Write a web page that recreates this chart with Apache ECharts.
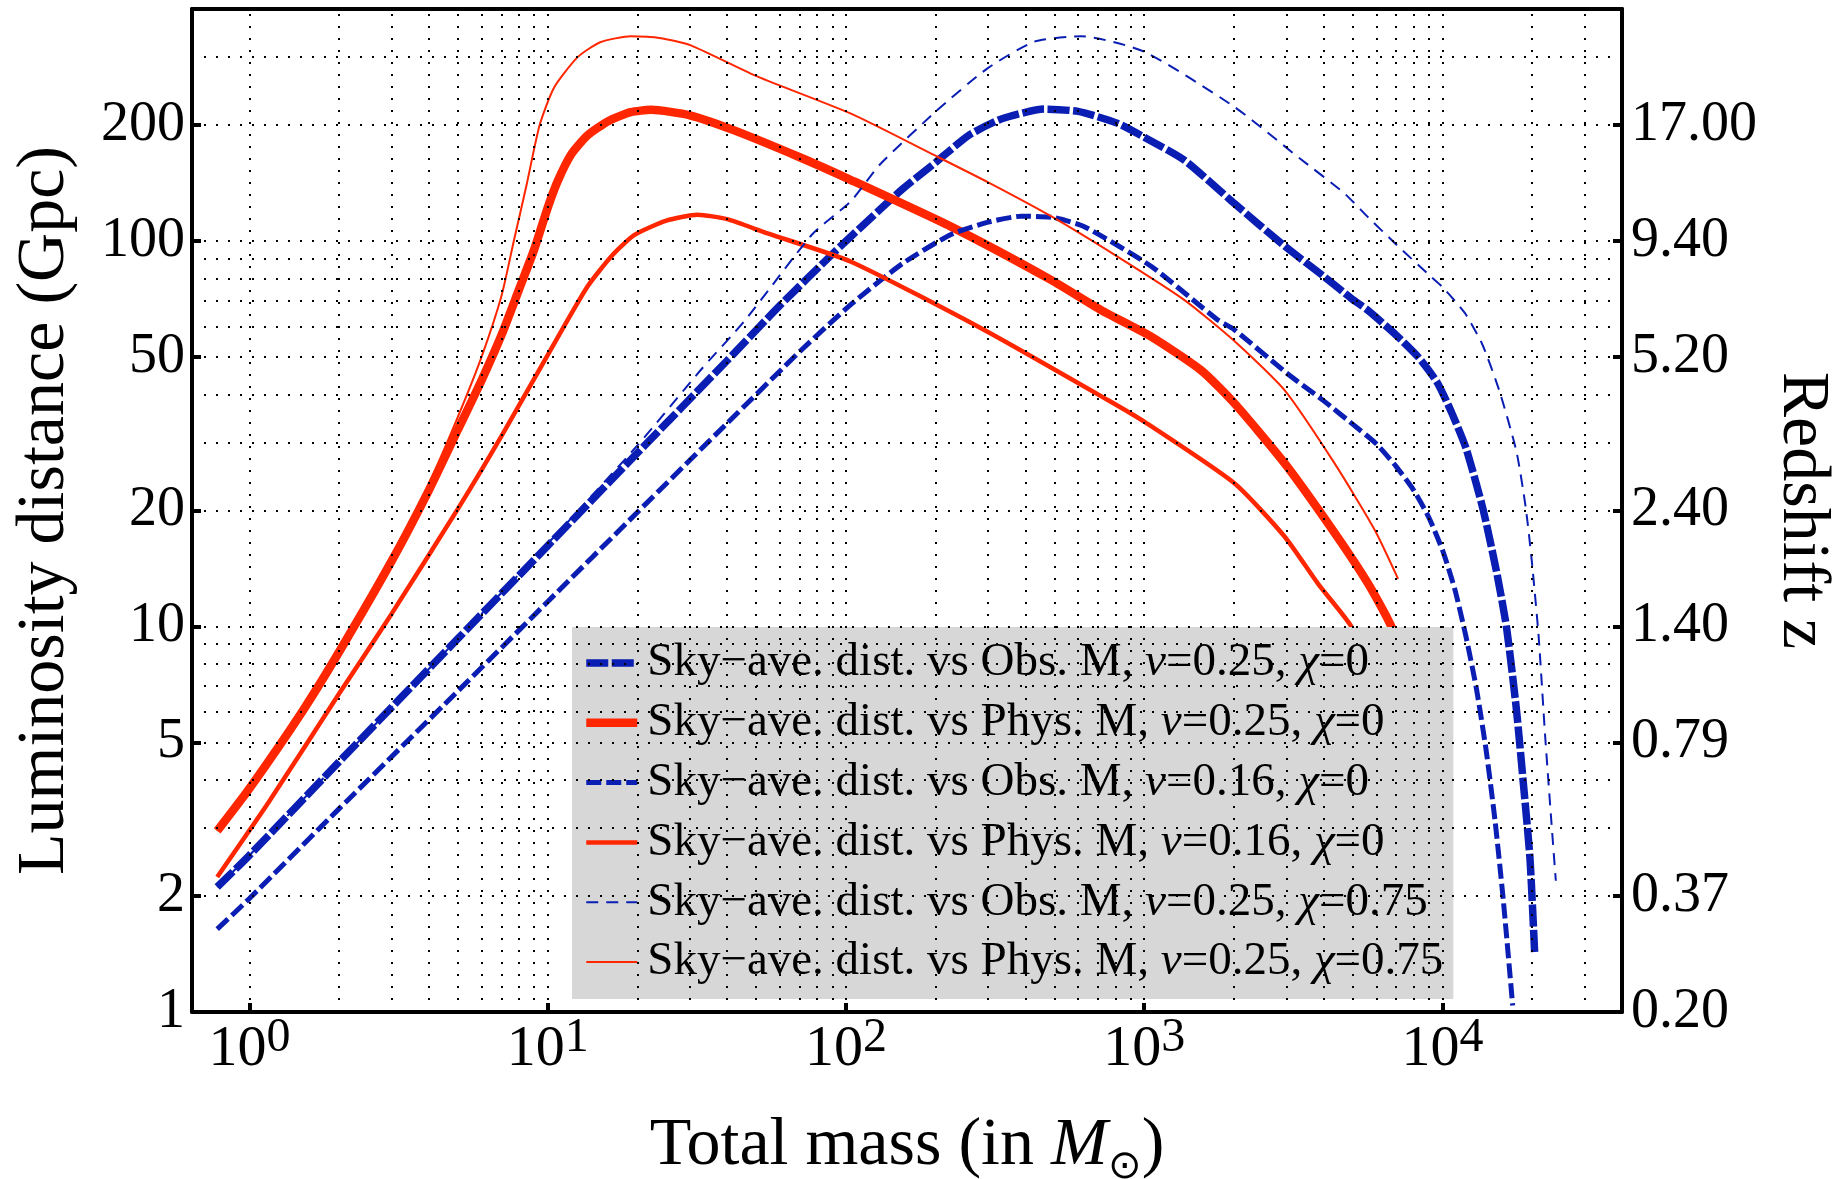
<!DOCTYPE html>
<html>
<head>
<meta charset="utf-8">
<script src="https://cdn.jsdelivr.net/npm/echarts@6/dist/echarts.min.js"></script>
<style>
html,body{margin:0;padding:0;background:#fff;}
#chart{width:1837px;height:1179px;}
</style>
</head>
<body>
<div id="chart"></div>
<script>
// ---------- axis ranges and ticks ----------
const xMin = 0.642, xMax = 40000;
const yMin = 1, yMax = 400;
const xTickValues = [1, 10, 100, 1000, 10000];
const yTickValues = [1, 2, 5, 10, 20, 50, 100, 200];
const yTickLabels = ['1', '2', '5', '10', '20', '50', '100', '200'];
const zTickLabels = ['0.20', '0.37', '0.79', '1.40', '2.40', '5.20', '9.40', '17.00'];
const xGridValues = [1,2,3,4,5,6,7,8,9,10,20,30,40,50,60,70,80,90,100,200,300,400,500,600,700,800,900,
                     1000,2000,3000,4000,5000,6000,7000,8000,9000,10000,20000,30000];
const yGridValues = [2,3,4,5,6,7,8,9,10,20,30,40,50,60,70,80,90,100,200,300];

// ---------- series names ----------
const seriesNames = [
  'Sky\u2212ave. dist. vs Obs. M, \u03bd=0.25, \u03c7=0',
  'Sky\u2212ave. dist. vs Phys. M, \u03bd=0.25, \u03c7=0',
  'Sky\u2212ave. dist. vs Obs. M, \u03bd=0.16, \u03c7=0',
  'Sky\u2212ave. dist. vs Phys. M, \u03bd=0.16, \u03c7=0',
  'Sky\u2212ave. dist. vs Obs. M, \u03bd=0.25, \u03c7=0.75',
  'Sky\u2212ave. dist. vs Phys. M, \u03bd=0.25, \u03c7=0.75'
];

// ---------- data: [total mass (Msun), luminosity distance (Gpc)] ----------
const obsNu025Chi0 = [[0.78,2.11],[1,2.55],[2,4.46],[5,9.3],[10,16.2],[20,28.2],[40,49],[60,68],[92,94],
  [120,114],[154,136],[200,160],[258,188],[330,207],[462,220],[600,217],[816,202],[1000,186],[1365,162],
  [2010,125],[2960,97],[4000,81],[4950,71],[5640,66],[7000,57],[8300,50],[9600,43],[10720,36],[12000,29],
  [13670,20.2],[15180,13.9],[16400,9.96],[17700,6.1],[18660,3.95],[19660,2.5],[20400,1.4]];
const physNu025Chi0 = [[0.78,2.95],[1,3.8],[1.5,6.0],[2,8.6],[3,14.8],[4,22.6],[5,32.4],[6,43.5],[7,57],[8,74.6],
  [9,94.8],[10,122],[10.8,143],[12,168],[13.6,188],[16,205],[19,216],[22.2,219],[30,212],[42,194],[70,165],
  [104,144],[225,109],[487,79.3],[717,66.2],[1055,56.5],[1553,46.2],[2010,37.9],[2960,26.5],[4350,17.5],
  [5640,12.9],[6740,10],[7800,7.2]];
const obsNu016Chi0 = [[0.78,1.64],[1,1.97],[2,3.37],[5,6.8],[10,11.6],[20,19.8],[40,33.7],[70.6,52],[104,68.5],
  [155,87.5],[225,104],[300,112],[387,116],[500,115],[630,109],[1055,86],[1766,62.4],[2000,59],[3000,45.5],
  [4000,38.5],[5000,33.5],[6000,29.8],[7000,26],[8000,22.6],[9000,19.2],[10000,15.8],[11000,12.5],
  [12000,9.4],[13000,6.9],[14000,4.8],[15000,3.15],[16000,1.95],[17200,1.04]];
const physNu016Chi0 = [[0.78,2.24],[1.16,3.5],[2,6.7],[3,10.8],[5,20.2],[7,31.2],[10.2,52],[13.6,76.2],
  [16.5,92],[19.5,103.6],[25,113],[31.8,117],[40,114],[54.6,104.7],[104,88.4],[291,58.8],[755,38.7],
  [1000,34],[2010,23.5],[2960,17.1],[3830,12.9],[4950,10],[5800,7.5]];
const obsNu025Chi075 = [[0.78,2.11],[1,2.55],[2,4.46],[5,9.3],[10,16.4],[20,29.5],[32.6,46.3],[46,62.4],
  [77,104],[104,127],[130,158],[203,219],[299,281],[428,329],[615,340],[1000,310],[2005,223],[3320,164],
  [4690,133],[5650,115],[7000,98],[9120,81],[10000,76],[11900,65],[13600,54],[15500,41],[17700,28.5],
  [19000,20.5],[19900,15],[21000,9.5],[22100,5.2],[23200,3.1],[24000,2.19]];
const physNu025Chi075 = [[0.78,2.95],[1,3.8],[1.5,6.0],[2,8.7],[3,14.9],[4,23.5],[5,35],[6,50],[7,72],
  [7.7,100],[8.5,140],[9.4,200],[10.5,250],[12.6,300],[15,328],[19,340],[24,336],[30.2,322],[50.6,267],[104,214],
  [198,167],[300,142],[487,116],[816,91],[1365,70.3],[2010,55],[2960,41],[4350,26.5],
  [5930,17.8],[7100,13.3]];

// ---------- styling ----------
const FONT = '"Liberation Serif", "Times New Roman", serif';
const BLUE = '#0a1eb4';
const RED = '#ff2600';

const xTickExp = xTickValues.map(v => Math.log10(v));
const yTickExp = yTickValues.map(v => Math.log10(v));
function idxOf(arr, v) { return arr.findIndex(t => Math.abs(t - v) < 1e-6); }

function lineSeries(name, data, color, width, dash, z) {
  return {
    name: name, type: 'line', data: data, xAxisIndex: 0, yAxisIndex: 0,
    symbol: 'none', showSymbol: false, smooth: 0.2, z: z,
    lineStyle: { color: color, width: width, type: dash, cap: 'butt' },
    itemStyle: { color: color },
    emphasis: { disabled: true }
  };
}

const gridMarks = xGridValues.map(v => ({ xAxis: v })).concat(yGridValues.map(v => ({ yAxis: v })));
const frameLine = { show: true, onZero: false, lineStyle: { color: '#000', width: 4 } };
const noLine = { show: false, onZero: false };
const tickStyle = (vals) => ({ show: true, inside: true, length: 9, lineStyle: { color: '#000', width: 4 }, customValues: vals });

const chart = echarts.init(document.getElementById('chart'), null, { renderer: 'canvas' });
const option = {
  animation: false,
  backgroundColor: '#ffffff',
  grid: { left: 192, top: 9, right: 215, bottom: 167, containLabel: false, outerBoundsMode: 'none' },
  legend: {
    data: seriesNames,
    orient: 'vertical',
    left: 572, top: 627,
    padding: [12.5, 10, 13.5, 10],
    itemGap: 12.8,
    itemWidth: 51,
    itemHeight: 47,
    backgroundColor: '#d7d7d7',
    selectedMode: false,
    lineStyle: { width: 'inherit' },
    itemStyle: { opacity: 0 },
    formatter: n => n.replace(/\u03bd/g, '{i|\u03bd}').replace(/\u03c7/g, '{i|\u03c7}'),
    textStyle: {
      fontFamily: FONT, fontSize: 47, color: '#000', padding: [0, 0, 0, 5],
      rich: { i: { fontFamily: FONT, fontSize: 47, fontStyle: 'italic', color: '#000' } }
    }
  },
  xAxis: [
    {
      type: 'log', min: xMin, max: xMax, position: 'bottom',
      axisLine: frameLine,
      axisTick: { show: false }, axisLabel: { show: false }, splitLine: { show: false },
      name: 'Total mass (in {i|M}{sub|\u2299})', nameLocation: 'middle', nameGap: 93,
      nameTextStyle: {
        fontFamily: FONT, fontSize: 68, color: '#000', lineHeight: 82,
        rich: {
          i: { fontFamily: FONT, fontSize: 68, fontStyle: 'italic', color: '#000', lineHeight: 82 },
          sub: { fontFamily: FONT, fontSize: 40, color: '#000', lineHeight: 38, verticalAlign: 'bottom' }
        }
      }
    },
    {
      type: 'value', min: Math.log10(xMin), max: Math.log10(xMax), position: 'bottom',
      axisLine: noLine,
      axisTick: tickStyle(xTickExp),
      axisLabel: {
        customValues: xTickExp, margin: 2,
        formatter: v => '{b|10}{s|' + Math.round(v) + '}',
        rich: {
          b: { fontFamily: FONT, fontSize: 58, color: '#000', lineHeight: 72 },
          s: { fontFamily: FONT, fontSize: 48, color: '#000', lineHeight: 38, verticalAlign: 'top' }
        }
      },
      splitLine: { show: false }
    },
    {
      type: 'log', min: xMin, max: xMax, position: 'top',
      axisLine: frameLine,
      axisTick: { show: false }, axisLabel: { show: false }, splitLine: { show: false }
    }
  ],
  yAxis: [
    {
      type: 'log', min: yMin, max: yMax, position: 'left',
      axisLine: frameLine,
      axisTick: { show: false }, axisLabel: { show: false }, splitLine: { show: false },
      name: 'Luminosity distance (Gpc)', nameLocation: 'middle', nameRotate: 90, nameGap: 113,
      nameTextStyle: { fontFamily: FONT, fontSize: 68, color: '#000' }
    },
    {
      type: 'value', min: Math.log10(yMin), max: Math.log10(yMax), position: 'left',
      axisLine: noLine,
      axisTick: tickStyle(yTickExp),
      axisLabel: {
        customValues: yTickExp, margin: 7,
        formatter: v => yTickLabels[idxOf(yTickExp, v)],
        fontFamily: FONT, fontSize: 56, color: '#000'
      },
      splitLine: { show: false }
    },
    {
      type: 'value', min: Math.log10(yMin), max: Math.log10(yMax), position: 'right',
      axisLine: frameLine,
      axisTick: tickStyle(yTickExp),
      axisLabel: {
        customValues: yTickExp, margin: 9,
        formatter: v => zTickLabels[idxOf(yTickExp, v)],
        fontFamily: FONT, fontSize: 56, color: '#000'
      },
      splitLine: { show: false },
      name: 'Redshift z', nameLocation: 'middle', nameRotate: -90, nameGap: 136,
      nameTextStyle: { fontFamily: FONT, fontSize: 68, color: '#000' }
    }
  ],
  series: [
    {
      name: 'grid', type: 'line', data: [], xAxisIndex: 0, yAxisIndex: 0, z: 1, silent: true,
      markLine: {
        silent: true, symbol: ['none', 'none'], label: { show: false }, animation: false,
        lineStyle: { color: '#000', width: 2, type: [2, 10], cap: 'butt' },
        emphasis: { disabled: true },
        data: gridMarks
      }
    },
    lineSeries(seriesNames[0], obsNu025Chi0, BLUE, 7.5, [22, 3.5], 3),
    lineSeries(seriesNames[1], physNu025Chi0, RED, 8.5, 'solid', 3),
    lineSeries(seriesNames[2], obsNu016Chi0, BLUE, 5, [15, 5], 3),
    lineSeries(seriesNames[3], physNu016Chi0, RED, 4.5, 'solid', 3),
    lineSeries(seriesNames[4], obsNu025Chi075, BLUE, 2, [12, 8], 3),
    lineSeries(seriesNames[5], physNu025Chi075, RED, 2, 'solid', 3)
  ]
};
chart.setOption(option);
</script>
</body>
</html>
